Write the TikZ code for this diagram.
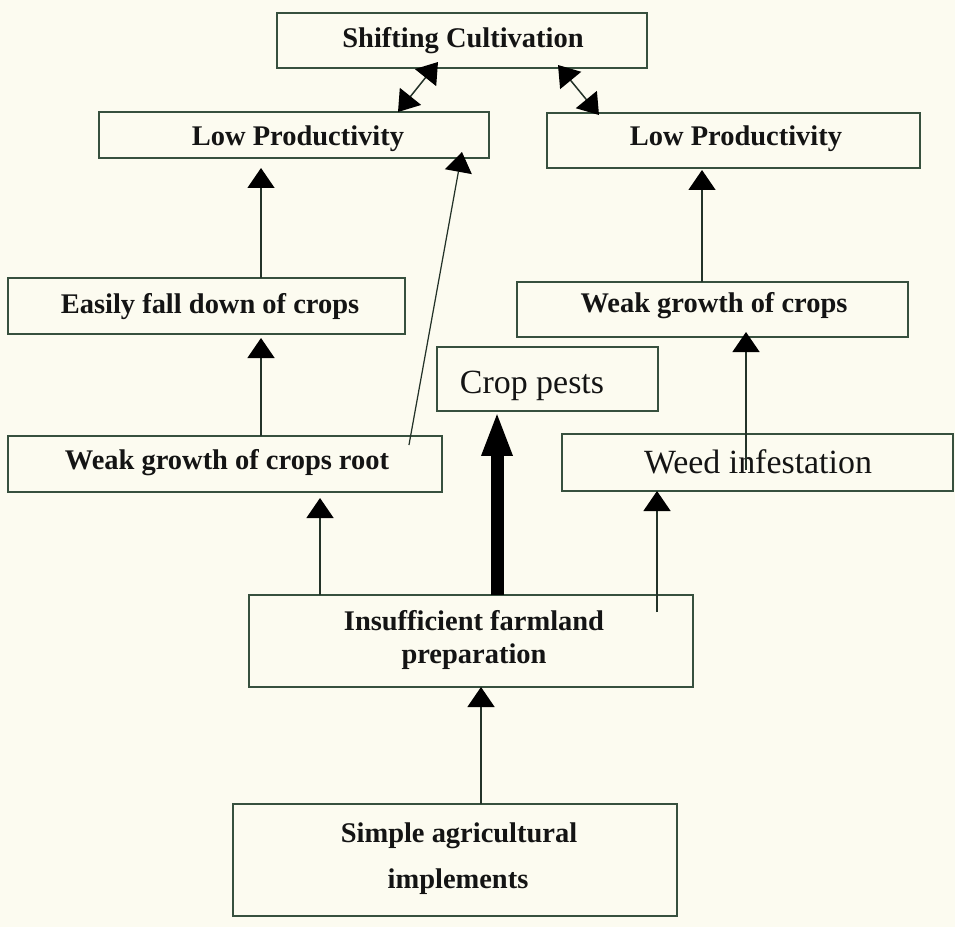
\documentclass[tikz,border=0pt]{standalone}
\usepackage{fontspec}
\setmainfont{Liberation Serif}
\usetikzlibrary{arrows.meta,calc}
\definecolor{bg}{RGB}{252,251,240}
\definecolor{boxc}{RGB}{55,80,62}
\definecolor{linec}{RGB}{35,50,40}
\definecolor{txt}{RGB}{20,20,20}
\begin{document}
\begin{tikzpicture}[x=0.02cm,y=-0.02cm,
  bx/.style={draw=boxc,line width=1.1pt,inner sep=0pt,outer sep=0pt},
  bt/.style={anchor=base,inner sep=0pt,text=txt,font=\fontsize{16.2}{19}\selectfont\bfseries},
  rt/.style={anchor=base,inner sep=0pt,text=txt,font=\fontsize{19.3}{23}\selectfont},
  tip/.style={-{Triangle[length=0.4cm,width=0.54cm,color=black]}},
  arr/.style={draw=linec,line width=0.85pt,tip},
  darr/.style={draw=linec,line width=0.85pt,{Triangle[length=0.4cm,width=0.54cm,color=black]}-{Triangle[length=0.4cm,width=0.54cm,color=black]}},
  bigarr/.style={draw=black,line width=0.26cm,-{Triangle[length=0.9cm,width=0.56cm,color=black]}}
]
\fill[bg] (0,0) rectangle (955,927);
\useasboundingbox (0,0) rectangle (955,927);

% boxes
\node[bx,minimum width=7.40cm,minimum height=1.10cm] (sc) at (462,40.5) {};
\node[bx,minimum width=7.80cm,minimum height=0.92cm] (lpl) at (294,135) {};
\node[bx,minimum width=7.46cm,minimum height=1.10cm] (lpr) at (733.5,140.5) {};
\node[bx,minimum width=7.94cm,minimum height=1.12cm] (ef) at (206.5,306) {};
\node[bx,minimum width=7.82cm,minimum height=1.10cm] (wgr) at (712.5,309.5) {};
\node[bx,minimum width=4.42cm,minimum height=1.28cm] (cp) at (547.5,379) {};
\node[bx,minimum width=8.68cm,minimum height=1.12cm] (wroot) at (225,464) {};
\node[bx,minimum width=7.82cm,minimum height=1.14cm] (wi) at (757.5,462.5) {};
\node[bx,minimum width=8.88cm,minimum height=1.84cm] (ins) at (471,641) {};
\node[bx,minimum width=8.88cm,minimum height=2.24cm] (sim) at (455,860) {};

% texts
\node[bt] (sct) at (463,47) {Shifting Cultivation};
\node[bt] (lplt) at (298,145) {Low Productivity};
\node[bt] (lprt) at (736,145) {Low Productivity};
\node[bt] (eft) at (210,313) {Easily fall down of crops};
\node[bt] (wgrt) at (714,312) {Weak growth of crops};
\node[rt] (cpt) at (532,393) {Crop pests};
\node[bt] (wroott) at (227,469) {Weak growth of crops root};
\node[rt] (wit) at (758,473) {Weed infestation};
\node[bt] (inst1) at (474,630) {Insufficient farmland};
\node[bt] (inst2) at (474,663) {preparation};
\node[bt] (simt1) at (459,842) {Simple agricultural};
\node[bt] (simt2) at (458,888) {implements};

% connectors
\draw[darr] ($(sc.south)+(-24,-6)$) -- (398,0 |- lpl.north);
\draw[darr] ($(sc.south)+(96,-3)$) -- ($(lpr.north)+(-134.5,2)$);
\draw[arr,shorten >=0.2cm] (261,0 |- ef.north) -- (261,0 |- lpl.south);
\draw[arr,shorten >=0.08cm] (261,0 |- wroot.north) -- (261,0 |- ef.south);
\draw[arr,line width=0.7pt] ($(wroot.north east)+(-33,9)$) -- ($(lpl.south east)+(-27,-6)$);
\draw[arr,shorten >=0.12cm] (320,0 |- ins.north) -- (320,0 |- wroot.south);
\draw[bigarr] (497,0 |- ins.north) -- (497,0 |- cp.south);
\draw[arr,shorten <=-0.34cm] (657,0 |- ins.north) -- (657,0 |- wi.south);
\draw[arr,shorten <=-0.72cm,shorten >=-0.1cm] (746,0 |- wi.north) -- (746,0 |- wgr.south);
\draw[arr,shorten >=0.04cm] (702,0 |- wgr.north) -- (702,0 |- lpr.south);
\draw[arr] (481,0 |- sim.north) -- (481,0 |- ins.south);
\end{tikzpicture}
\end{document}
